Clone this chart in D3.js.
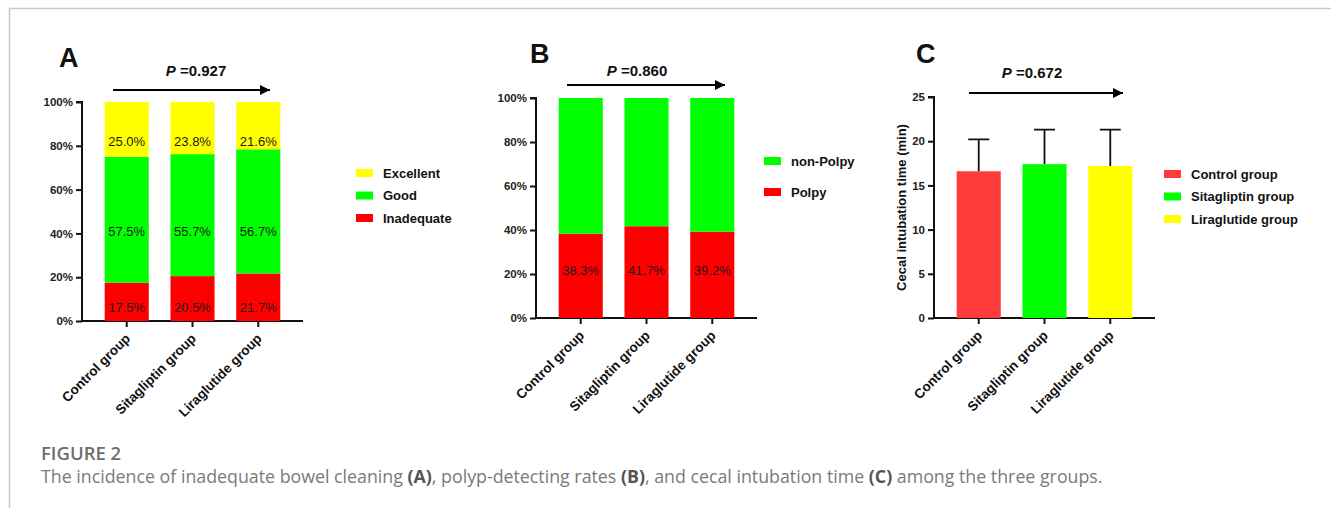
<!DOCTYPE html>
<html>
  <head>
    <meta charset="utf-8">
    <style>
      body { margin: 0; background: #fff; }
      svg text { font-family: "Liberation Sans", Arial, sans-serif; }
      svg .caption { font-family: "Open Sans", sans-serif; }
    </style>
  </head>
  <body>
    <script src="https://d3js.org/d3.v7.min.js"></script>
    <script type="text/javascript">

      const groups = ['Control group', 'Sitagliptin group', 'Liraglutide group'];

      // panel A - bowel cleaning (%)
      const inadequate = [17.5, 20.5, 21.7];
      const good = [57.5, 55.7, 56.7];
      const excellent = [25.0, 23.8, 21.6];

      // panel B - polyp detection (%)
      const polpy = [38.3, 41.7, 39.2];
      const nonPolpy = [61.7, 58.3, 60.8];

      // panel C - cecal intubation time (min), mean and SD
      const cecalMean = [16.6, 17.4, 17.2];
      const cecalSD = [3.6, 3.9, 4.1];

      const pctTicks = [0, 20, 40, 60, 80, 100];
      const minTicks = [0, 5, 10, 15, 20, 25];
      const pValues = ['0.927', '0.860', '0.672'];

      const width = 1331;
      const height = 508;

      const svg = d3.select('body')
        .append('svg')
        .attr('width', width)
        .attr('height', height);

      // page frame (top + left only)
      svg.append('path')
        .attr('d', `M9.5,${height} V8.5 H${width}`)
        .attr('fill', 'none')
        .attr('stroke', '#c8c8c8')
        .attr('stroke-width', 1.5);

      svg.append('defs').append('marker')
        .attr('id', 'arrow')
        .attr('viewBox', '0 0 10 10')
        .attr('refX', 10).attr('refY', 5)
        .attr('markerWidth', 5.5).attr('markerHeight', 5)
        .attr('markerUnits', 'strokeWidth')
        .attr('orient', 'auto')
        .append('path')
        .attr('d', 'M0,0 L10,5 L0,10 Z')
        .attr('fill', '#000');

      function makePanel(opt) {
        const g = svg.append('g');
        const x = d3.scaleBand()
          .domain(groups)
          .range([opt.x0, opt.x0 + 221])
          .paddingInner(0.33)
          .paddingOuter(0.345);
        const y = d3.scaleLinear()
          .domain(opt.domain)
          .range([opt.yBot, opt.yTop]);

        // axes
        const yAxis = d3.axisLeft(y)
          .tickValues(opt.ticks)
          .tickSize(6)
          .tickPadding(3)
          .tickFormat(opt.fmt);
        const ya = g.append('g')
          .attr('transform', `translate(${opt.x0},0)`)
          .call(yAxis);
        const xAxis = d3.axisBottom(x)
          .tickSize(6)
          .tickSizeOuter(0)
          .tickFormat('');
        const xa = g.append('g')
          .attr('transform', `translate(0,${opt.yBot})`)
          .call(xAxis);
        [ya, xa].forEach((a) => {
          a.select('.domain').attr('stroke', '#111').attr('stroke-width', 2);
          a.selectAll('.tick line').attr('stroke', '#111').attr('stroke-width', 2);
        });
        ya.select('.domain').attr('d', `M-6,${opt.yTop}H0V${opt.yBot}`);
        xa.select('.domain').attr('d', `M${opt.x0},0H${opt.x0 + 221}`);
        ya.selectAll('.tick text')
          .attr('fill', '#222')
          .style('font-size', '11.5px')
          .style('font-weight', 'bold');

        g.selectAll('.xlab')
          .data(groups)
          .enter()
          .append('text')
          .attr('class', 'xlab')
          .attr('transform', (d) => `translate(${x(d) + x.bandwidth() / 2 + 1},${opt.yBot + 15}) rotate(-45)`)
          .attr('text-anchor', 'end')
          .attr('dy', '0.35em')
          .attr('fill', '#111')
          .style('font-size', '13.5px')
          .style('font-weight', 'bold')
          .text((d) => d);

        // panel letter, P value and arrow
        g.append('text')
          .attr('x', opt.letterX).attr('y', opt.letterY)
          .style('font-size', '27px')
          .style('font-weight', 'bold')
          .attr('fill', '#111')
          .text(opt.letter);
        const pt = g.append('text')
          .attr('x', opt.pX).attr('y', opt.pY)
          .attr('text-anchor', 'middle')
          .style('font-size', '15px')
          .style('font-weight', 'bold')
          .attr('fill', '#111');
        pt.append('tspan').style('font-style', 'italic').text('P');
        pt.append('tspan').text(' =' + opt.p);
        g.append('line')
          .attr('x1', opt.arrow[0]).attr('x2', opt.arrow[1])
          .attr('y1', opt.arrow[2]).attr('y2', opt.arrow[2])
          .attr('stroke', '#000')
          .attr('stroke-width', 2)
          .attr('marker-end', 'url(#arrow)');

        return { g, x, y };
      }

      function legend(g, items, colors, lx, ly, gap) {
        const lg = g.append('g');
        items.forEach((d, i) => {
          lg.append('rect')
            .attr('x', lx).attr('y', ly + i * gap - 4)
            .attr('width', 17).attr('height', 8)
            .attr('fill', colors[i]);
          lg.append('text')
            .attr('x', lx + 27).attr('y', ly + i * gap + 4.5)
            .style('font-size', '13px')
            .style('font-weight', 'bold')
            .attr('fill', '#111')
            .text(d);
        });
      }

      const pctFmt = (d) => d + '%';

      // ---------- A ----------
      const A = makePanel({
        x0: 82, yTop: 102, yBot: 321, domain: [0, 100], ticks: pctTicks, fmt: pctFmt,
        letter: 'A', letterX: 59, letterY: 67, p: pValues[0], pX: 196, pY: 76, arrow: [113, 270, 90],
      });
      const colorsA = ['#ff0000', '#00ff00', '#ffff00'];
      const seriesA = [inadequate, good, excellent];
      const labelAtA = [6.4, 41, 82];
      const stackA = d3.stack().keys([0, 1, 2])(groups.map((d, i) => seriesA.map((s) => s[i])));
      stackA.forEach((layer, k) => {
        A.g.append('g')
          .selectAll('rect')
          .data(layer)
          .enter()
          .append('rect')
          .attr('x', (d, i) => A.x(groups[i]))
          .attr('width', A.x.bandwidth())
          .attr('y', (d) => A.y(d[1]))
          .attr('height', (d) => A.y(d[0]) - A.y(d[1]))
          .attr('fill', colorsA[k]);
        A.g.append('g')
          .selectAll('text')
          .data(seriesA[k])
          .enter()
          .append('text')
          .attr('x', (d, i) => A.x(groups[i]) + A.x.bandwidth() / 2)
          .attr('y', A.y(labelAtA[k]))
          .attr('dy', '0.36em')
          .attr('text-anchor', 'middle')
          .style('font-size', '13px')
          .attr('fill', '#1a1a1a')
          .text((d) => d.toFixed(1) + '%');
      });
      A.g.selectAll('.domain').raise();
      legend(A.g, ['Excellent', 'Good', 'Inadequate'], ['#ffff00', '#00ff00', '#ff0000'], 356, 173, 22.5);

      // ---------- B ----------
      const B = makePanel({
        x0: 536, yTop: 98, yBot: 318, domain: [0, 100], ticks: pctTicks, fmt: pctFmt,
        letter: 'B', letterX: 530, letterY: 63, p: pValues[1], pX: 637, pY: 76, arrow: [567, 725, 85],
      });
      const colorsB = ['#ff0000', '#00ff00'];
      const seriesB = [polpy, nonPolpy];
      const stackB = d3.stack().keys([0, 1])(groups.map((d, i) => seriesB.map((s) => s[i])));
      stackB.forEach((layer, k) => {
        B.g.append('g')
          .selectAll('rect')
          .data(layer)
          .enter()
          .append('rect')
          .attr('x', (d, i) => B.x(groups[i]))
          .attr('width', B.x.bandwidth())
          .attr('y', (d) => B.y(d[1]))
          .attr('height', (d) => B.y(d[0]) - B.y(d[1]))
          .attr('fill', colorsB[k]);
      });
      B.g.append('g')
        .selectAll('text')
        .data(polpy)
        .enter()
        .append('text')
        .attr('x', (d, i) => B.x(groups[i]) + B.x.bandwidth() / 2)
        .attr('y', B.y(21.8))
        .attr('dy', '0.36em')
        .attr('text-anchor', 'middle')
        .style('font-size', '13px')
        .attr('fill', '#1a1a1a')
        .text((d) => d.toFixed(1) + '%');
      B.g.selectAll('.domain').raise();
      legend(B.g, ['non-Polpy', 'Polpy'], ['#00ff00', '#ff0000'], 764, 161, 31);

      // ---------- C ----------
      const C = makePanel({
        x0: 934, yTop: 97, yBot: 318, domain: [0, 25], ticks: minTicks, fmt: d3.format('d'),
        letter: 'C', letterX: 916, letterY: 63, p: pValues[2], pX: 1032, pY: 78, arrow: [969, 1123, 93],
      });
      const colorsC = ['#ff3b3b', '#00ff00', '#ffff00'];
      const cg = C.g.append('g');
      cg.selectAll('.err')
        .data(cecalMean)
        .enter()
        .append('path')
        .attr('class', 'err')
        .attr('d', (d, i) => {
          const cx = C.x(groups[i]) + C.x.bandwidth() / 2;
          const top = C.y(d + cecalSD[i]);
          return `M${cx},${C.y(d)}V${top}M${cx - 10.5},${top}H${cx + 10.5}`;
        })
        .attr('stroke', '#111')
        .attr('stroke-width', 1.8)
        .attr('fill', 'none');
      cg.selectAll('rect')
        .data(cecalMean)
        .enter()
        .append('rect')
        .attr('x', (d, i) => C.x(groups[i]))
        .attr('width', C.x.bandwidth())
        .attr('y', (d) => C.y(d))
        .attr('height', (d) => C.y(0) - C.y(d))
        .attr('fill', (d, i) => colorsC[i]);
      C.g.selectAll('.domain').raise();
      C.g.append('text')
        .attr('transform', `translate(906,${(97 + 318) / 2}) rotate(-90)`)
        .attr('text-anchor', 'middle')
        .style('font-size', '13px')
        .style('font-weight', 'bold')
        .attr('fill', '#111')
        .text('Cecal intubation time (min)');
      legend(C.g, groups, colorsC, 1164, 174, 22.5);

      // ---------- caption ----------
      svg.append('text')
        .attr('class', 'caption')
        .attr('x', 41).attr('y', 460)
        .style('font-size', '18.5px')
        .style('font-weight', 600)
        .attr('fill', '#6e6e6e')
        .text('FIGURE 2');
      const cap = svg.append('text')
        .attr('class', 'caption')
        .attr('x', 41).attr('y', 483)
        .style('font-size', '17.8px')
        .attr('fill', '#7a7a7a');
      const parts = [
        ['The incidence of inadequate bowel cleaning ', false], ['(A)', true],
        [', polyp-detecting rates ', false], ['(B)', true],
        [', and cecal intubation time ', false], ['(C)', true],
        [' among the three groups.', false],
      ];
      parts.forEach((p) => {
        cap.append('tspan')
          .style('font-weight', p[1] ? 'bold' : 'normal')
          .attr('fill', p[1] ? '#555' : '#7a7a7a')
          .text(p[0]);
      });

    </script>
  </body>
</html>
